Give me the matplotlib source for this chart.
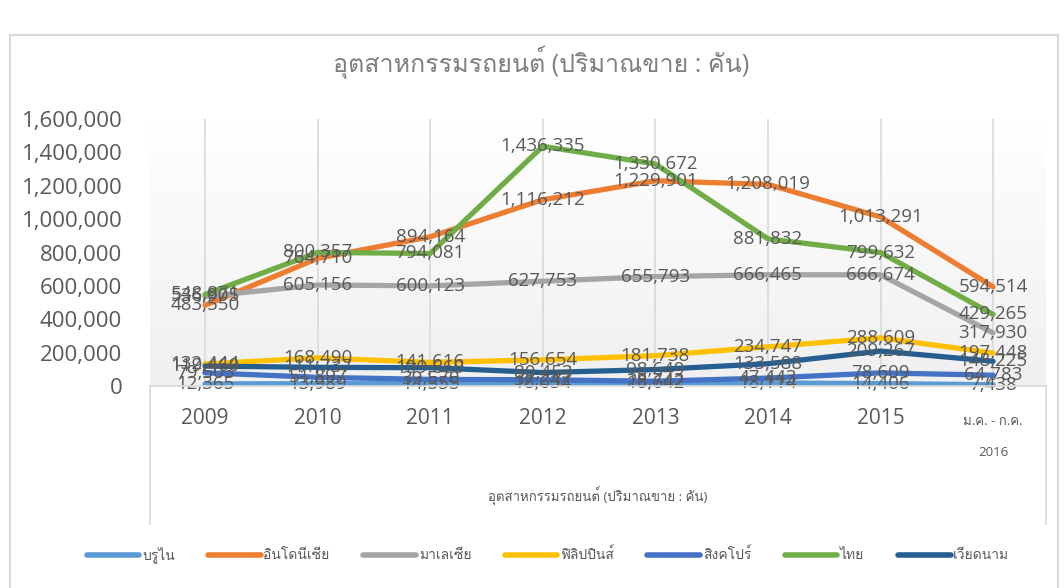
import numpy as np
import matplotlib
matplotlib.use('Agg')
import matplotlib.pyplot as plt
from matplotlib import font_manager, ft2font
from matplotlib.patches import Rectangle
from matplotlib.lines import Line2D

# find a font that has Thai glyphs
thai_font = None
for f in font_manager.fontManager.ttflist:
    try:
        if 0x0E01 in ft2font.FT2Font(f.fname).get_charmap():
            thai_font = f.name
            break
    except Exception:
        pass
fams = ['Open Sans']
if thai_font:
    fams.append(thai_font)
fams.append('DejaVu Sans')
plt.rcParams['font.family'] = fams

categories = ['2009', '2010', '2011', '2012', '2013', '2014', '2015', 'ม.ค. - ก.ค.\n2016']
brunei = [12365, 13989, 14555, 18634, 18642, 18114, 14406, 7438]
indonesia = [483550, 764710, 894164, 1116212, 1229901, 1208019, 1013291, 594514]
malaysia = [536905, 605156, 600123, 627753, 655793, 666465, 666674, 317930]
philippines = [132444, 168490, 141616, 156654, 181738, 234747, 288609, 197448]
singapore = [79503, 51897, 39570, 37247, 28742, 47443, 78609, 64783]
thailand = [548871, 800357, 794081, 1436335, 1330672, 881832, 799632, 429265]
vietnam = [119460, 111737, 109660, 80453, 98649, 133588, 209267, 148225]

names = ['บรูไน', 'อินโดนีเซีย', 'มาเลเซีย', 'ฟิลิปปินส์', 'สิงคโปร์', 'ไทย', 'เวียดนาม']
series = [brunei, indonesia, malaysia, philippines, singapore, thailand, vietnam]
colors = ['#5B9BD5', '#ED7D31', '#A5A5A5', '#FFC000', '#4472C4', '#70AD47', '#255E91']

title = 'อุตสาหกรรมรถยนต์ (ปริมาณขาย : คัน)'

W, H = 1064, 588
fig = plt.figure(figsize=(W / 100, H / 100), dpi=100)

# axes placed in pixel terms
x0, x1, y0, y1 = 150, 1046, 386, 119
ax = fig.add_axes([x0 / W, 1 - y0 / H, (x1 - x0) / W, (y0 - y1) / H])
ax.set_facecolor('none')

# chart area border
fig.patches.append(Rectangle((10 / W, -0.05), 1048 / W, 1.05 - 35 / H, transform=fig.transFigure,
                             fill=False, edgecolor='#d9d9d9', lw=1.5))

# back wall gradient
grad = np.linspace(1, 0, 256).reshape(-1, 1)
wall = np.ones((256, 1, 3))
wall[:, 0, :] = (1 - grad * 0.06)[:, :1]
ax.imshow(wall[::-1], extent=[0, 1, 0, 1], transform=ax.transAxes, aspect='auto', zorder=0)

# floor edges (no bottom edge)
fy = 1 - 524 / H
for xs, ys in [([x0 / W, x0 / W], [fy, 1 - y0 / H]),
               ([x0 / W, x1 / W], [1 - y0 / H, 1 - y0 / H]),
               ([x1 / W, x1 / W], [1 - y0 / H, fy])]:
    fig.add_artist(Line2D(xs, ys, color='#d9d9d9', lw=1.2, transform=fig.transFigure))

x = np.arange(len(categories))
for vals, c, n in zip(series, colors, names):
    ax.plot(x, vals, color=c, lw=3.8, label=n, solid_capstyle='round', zorder=3)

for vals in series:
    for xi, v in zip(x, vals):
        ax.text(xi, v, f'{v:,}', ha='center', va='center', fontsize=13.5,
                color='#595959', zorder=5)

ax.set_xlim(-0.489, 7.47)
ax.set_ylim(0, 1600000)
ax.set_yticks(np.arange(0, 1600001, 200000))
ax.set_yticklabels([f'{int(t):,}' for t in ax.get_yticks()])
ax.set_xticks(x)
ax.set_xticklabels(categories)
ax.tick_params(axis='y', length=0, pad=20, labelsize=16, labelcolor='#595959')
ax.tick_params(axis='x', length=0, pad=16, labelsize=15, labelcolor='#595959')
last = ax.get_xticklabels()[-1]
last.set_fontsize(9.5)
last.set_linespacing(2.8)
ax.xaxis.get_major_ticks()[-1].set_pad(21)
ax.xaxis.grid(True, color='#d9d9d9', lw=1.2, zorder=1)
ax.yaxis.grid(False)
for s in ax.spines.values():
    s.set_visible(False)

fig.text(541 / W, 1 - 62 / H, title, ha='center', va='center',
         fontsize=18, color='#7f7f7f')
fig.text((x0 + x1) / 2 / W, 1 - 497 / H, title, ha='center', va='center',
         fontsize=9.5, color='#595959')

handles = [Line2D([], [], color=c, lw=4, solid_capstyle='round') for c in colors]
fig.legend(handles, names, loc='center', bbox_to_anchor=(0.515, 1 - 555 / H), ncol=7,
           frameon=False, fontsize=10, handlelength=3.8, columnspacing=2.4, handletextpad=0.2,
           labelcolor='#595959')

fig.savefig('out.png', dpi=100)
